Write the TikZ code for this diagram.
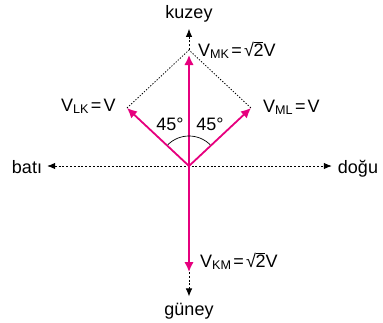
\documentclass[tikz,border=0pt]{standalone}
\usepackage{fontspec}
\setmainfont{Liberation Sans}
\usetikzlibrary{arrows.meta,positioning}
\definecolor{vecpink}{HTML}{E6007E}
\newcommand\sqtwo{√\kern-0.4pt\rlap{\rule[0.73em]{0.55em}{0.05em}}2}
\newcommand\eqs{\kern1.8pt=\kern2.2pt}

\begin{document}
\begin{tikzpicture}[x=1pt, y=1pt, >={Latex[length=8pt,width=6.5pt]}]
  \tikzset{
    axis/.style={line width=0.8pt, dash pattern=on 2pt off 1.8pt},
    guide/.style={line width=0.8pt, dash pattern=on 1.3pt off 1.6pt},
    vec/.style={draw=vecpink, line width=1.8pt, -{Latex[length=10pt,width=9.5pt]}},
    lbl/.style={font=\fontsize{18}{21}\selectfont, inner sep=0pt, anchor=base},
  }
  \useasboundingbox (-189,-156) rectangle (194,166);
  \coordinate (O) at (0,0);
  \coordinate (L) at (-62,58);
  \coordinate (R) at (62,58);
  \coordinate (T) at (0,116);
  \coordinate (MK) at (0,111);
  \coordinate (KM) at (0,-106);

  % directions
  \node[lbl] (kuzey) at (0,148) {kuzey};
  \node[lbl] (guney) at (0,-149) {güney};
  \node[lbl] (bati) at (-162,-7) {batı};
  \node[lbl] (dogu) at (169,-7) {doğu};
  \draw[axis, <->, shorten <=5pt, shorten >=6pt] (bati.east |- O) -- (dogu.west |- O);
  \draw[axis, ->, shorten >=7pt] (T) -- (kuzey.south);
  \draw[axis, ->, shorten >=6pt] (KM) -- (guney.north);

  % parallelogram and vectors
  \draw[guide] (L) -- (T) -- (R);
  \draw[vec] (O) -- (L);
  \draw[vec] (O) -- (R);
  \draw[vec] (O) -- (MK);
  \draw[vec] (O) -- (KM);

  % angles
  \draw[line width=0.7pt] ([shift={(90:30)}]O) arc[start angle=90, end angle=135, radius=30];
  \draw[line width=0.7pt] ([shift={(45:30)}]O) arc[start angle=45, end angle=90, radius=30];
  \node[lbl] (angL) at (-19,36) {45°};
  \node[lbl] (angR) at (21,36) {45°};

  % labels
  \node[lbl, anchor=base west] (vmk) at (9,110) {V\textsubscript{MK}\eqs\sqtwo V};
  \node[lbl, anchor=base west] (vml) at (74,54) {V\textsubscript{ML}\eqs V};
  \node[lbl, anchor=base west] (vlk) at (-128,55) {V\textsubscript{LK}\eqs V};
  \node[lbl, anchor=base west] (vkm) at (11,-101) {V\textsubscript{KM}\eqs\sqtwo V};
\end{tikzpicture}
\end{document}
